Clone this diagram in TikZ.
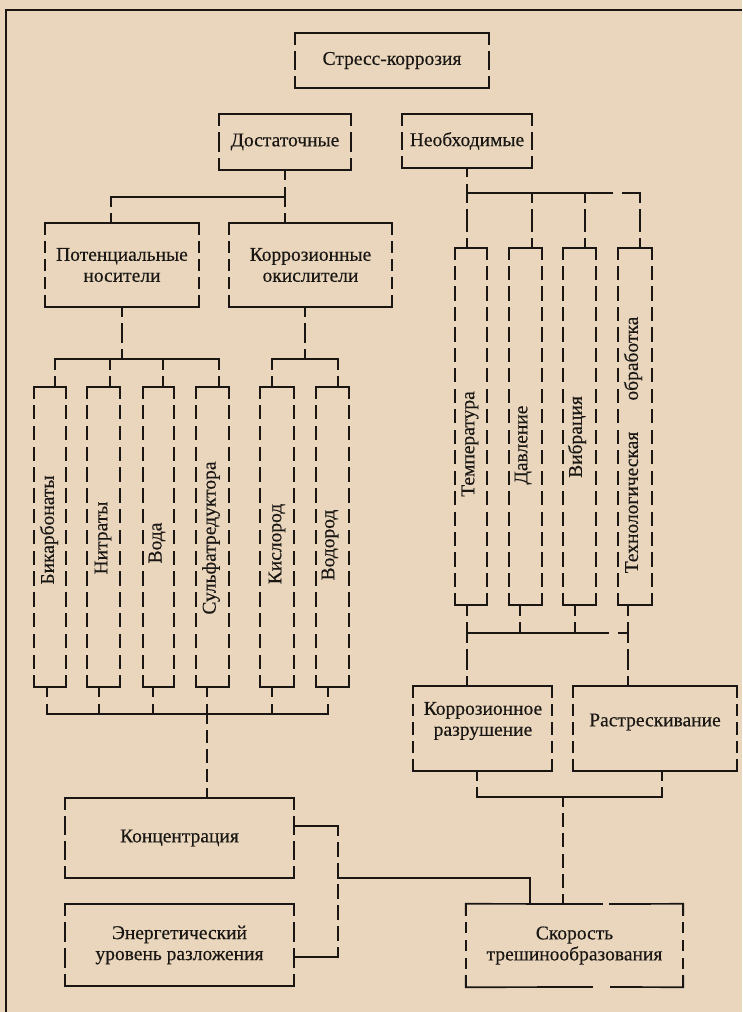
\documentclass[tikz,border=0pt]{standalone}
\usepackage{fontspec}
\setmainfont{Liberation Serif}
\newfontfamily\inkfont{Liberation Serif}[FakeBold=0.35]
\usetikzlibrary{calc}
\definecolor{bg}{RGB}{233,214,188}
\definecolor{ink}{RGB}{25,22,20}
\def\mygap{8}
\def\mydash{13}
\tikzset{
 ln/.style={draw=ink, line width=1.7pt, line cap=rect},
 bx/.style={inner sep=0pt, align=center, font=\inkfont\fontsize{19.5}{21}\selectfont, text=ink},
 txt/.style={inner sep=0pt, align=center, font=\inkfont\fontsize{19.5}{21}\selectfont, text=ink},
}
\newcommand\mkbox[6]{\node[bx,minimum width={(#4-#2)*1pt},minimum height={(#5-#3)*1pt}] (#1) at ({(#2+#4)/2},{(#3+#5)/2}) {#6};}
\newcommand\dlink[3][9]{%
 \path let \p1=(#2), \p2=(#3), \n1={veclen(\x2-\x1,\y2-\y1)} in \pgfextra{\xdef\myL{\n1}};
 \pgfmathsetmacro\myK{round((\myL-2*#1-\mygap)/(\mydash+\mygap))}%
 \ifdim\myK pt<0.5pt
   \pgfmathsetmacro\myT{(\myL-\mygap)/2}%
   \draw[ln] (#2) -- ($(#2)!\myT pt!(#3)$);
   \draw[ln] (#3) -- ($(#3)!\myT pt!(#2)$);
 \else
   \pgfmathsetmacro\myD{(\myL-2*#1-(\myK+1)*\mygap)/\myK}%
   \draw[ln] (#2) -- ($(#2)!#1pt!(#3)$);
   \draw[ln] (#3) -- ($(#3)!#1pt!(#2)$);
   \draw[ln,dash pattern=on \myD pt off \mygap pt] ($(#2)!#1pt+\mygap pt!(#3)$) -- ($(#3)!#1pt+\mygap pt!(#2)$);
 \fi}
\newcommand\frm[1]{%
 \draw[ln] ([yshift=-11pt]#1.north west) -- (#1.north west) -- (#1.north east) -- ([yshift=-11pt]#1.north east);
 \draw[ln] ([yshift=11pt]#1.south west) -- (#1.south west) -- (#1.south east) -- ([yshift=11pt]#1.south east);
 \dlink[11]{#1.north west}{#1.south west}
 \dlink[11]{#1.north east}{#1.south east}}
\begin{document}
\begin{tikzpicture}[x=1pt,y=-1pt]
\fill[bg] (0,0) rectangle (742,1012);
\useasboundingbox (0,0) rectangle (742,1012);
\draw[ink,line width=1.3pt] (6,1012) -- (6,10) -- (742,10);

% boxes
\mkbox{stress}{295}{33}{489}{88}{Стресс-коррозия}
\mkbox{dost}{219}{114}{351}{170}{Достаточные}
\mkbox{neob}{402}{114}{532}{168}{Необходимые}
\mkbox{pot}{45}{223}{199}{307}{Потенциальные\\носители}
\mkbox{korr}{229}{223}{392}{307}{Коррозионные\\окислители}
\mkbox{b1}{34}{387}{66}{687}{}
\mkbox{b2}{87}{387}{120}{687}{}
\mkbox{b3}{143}{387}{174}{687}{}
\mkbox{b4}{196}{387}{229}{687}{}
\mkbox{b5}{260}{387}{294}{687}{}
\mkbox{b6}{316}{387}{349}{687}{}
\mkbox{t1}{455}{248}{487}{605}{}
\mkbox{t2}{509}{248}{542}{605}{}
\mkbox{t3}{563}{248}{596}{605}{}
\mkbox{t4}{618}{248}{652}{605}{}
\mkbox{kr}{413}{686}{552}{771}{}
\mkbox{rs}{573}{686}{737}{771}{}
\mkbox{konc}{65}{798}{294}{878}{Концентрация}
\mkbox{energ}{65}{904}{294}{986}{Энергетический\\уровень разложения}
\mkbox{skor}{466}{904}{683}{987}{Скорость\\трешинообразования}

% labels
\node[txt,rotate=90] (l1) at (49,530) {Бикарбонаты};
\node[txt,rotate=90] (l2) at (103,538) {Нитраты};
\node[txt,rotate=90] (l3) at (157,543) {Вода};
\node[txt,rotate=90] (l4) at (211,538) {Сульфатредуктора};
\node[txt,rotate=90] (l5) at (277,544) {Кислород};
\node[txt,rotate=90] (l6) at (330,545) {Водород};
\node[txt,rotate=90] (l7) at (470,444) {Температура};
\node[txt,rotate=90] (l8) at (523,445) {Давление};
\node[txt,rotate=90] (l9) at (577,437) {Вибрация};
\node[txt,rotate=90] (l10) at (633,445) {Технологическая\hspace{1.6em}обработка};
\node[txt] (krl) at (483,721) {Коррозионное\\разрушение};
\node[txt] (rsl) at (655,722) {Растрескивание};

% frames
\foreach \bn in {stress,dost,neob,pot,korr,b1,b2,b3,b4,b5,b6,t1,t2,t3,t4,kr,rs,konc,energ}{\frm{\bn}}
\draw[ln] ([yshift=-11pt]skor.north west) -- (skor.north west) -- (602,904);
\draw[ln] (610,904) -- (skor.north east) -- ([yshift=-11pt]skor.north east);
\draw[ln] ([yshift=11pt]skor.south west) -- (skor.south west) -- (592,987);
\draw[ln] (611,987) -- (skor.south east) -- ([yshift=11pt]skor.south east);
\dlink[11]{skor.north west}{skor.south west}
\dlink[11]{skor.north east}{skor.south east}

% top connectors
\coordinate (dj) at (285,197);
\coordinate (pl) at (111,197);
\coordinate (potT) at (111,223);
\coordinate (korrT) at (285,223);
\dlink{dost.south}{dj}
\draw[ln] (pl) -- (dj);
\dlink{pl}{potT}
\dlink{dj}{korrT}

% left groups
\coordinate (pj) at (122,359);
\dlink{pot.south}{pj}
\foreach \i/\xx in {1/55,2/110,3/163,4/219,5/272,6/338}{
  \coordinate (la\i) at (\xx,359);
  \coordinate (ta\i) at (\xx,387);
}
\draw[ln] (la1) -- (la4);
\foreach \i in {1,...,6}{\dlink{la\i}{ta\i}}
\coordinate (korrB) at (305,307);
\coordinate (kj) at (305,359);
\dlink{korrB}{kj}
\draw[ln] (la5) -- (la6);

% bottom of small boxes
\foreach \i/\xx in {1/47,2/99,3/153,4/207,5/272,6/328}{
  \coordinate (sb\i) at (\xx,687);
  \coordinate (lb\i) at (\xx,714);
}
\foreach \i in {1,...,6}{\dlink{sb\i}{lb\i}}
\draw[ln] (lb1) -- (lb6);
\coordinate (kt) at (207,798);
\dlink{lb4}{kt}

% right
\coordinate (nj) at (467,193);
\dlink{neob.south}{nj}
\foreach \i/\xx in {1/467,2/532,3/585,4/640}{
  \coordinate (ra\i) at (\xx,193);
  \coordinate (rt\i) at (\xx,248);
}
\foreach \i in {1,...,4}{\dlink{ra\i}{rt\i}}
\coordinate (rg1) at (612,193);
\coordinate (rg2) at (623,193);
\draw[ln] (ra1) -- (rg1);
\draw[ln] (rg2) -- (ra4);
\foreach \i/\xx in {1/467,2/520,3/575,4/628}{
  \coordinate (rs\i) at (\xx,605);
  \coordinate (rb\i) at (\xx,633);
}
\foreach \i in {1,...,4}{\dlink{rs\i}{rb\i}}
\coordinate (rh1) at (608,633);
\coordinate (rh2) at (619,633);
\draw[ln] (rb1) -- (rh1);
\draw[ln] (rh2) -- (rb4);
\coordinate (krT) at (467,686);
\coordinate (rsT) at (628,686);
\dlink{rb1}{krT}
\dlink{rb4}{rsT}

\coordinate (krS) at (477,771);
\coordinate (rsS) at (662,771);
\coordinate (kb) at (477,797);
\coordinate (rsb) at (662,797);
\coordinate (sj) at (563,797);
\coordinate (skT) at (563,904);
\dlink{krS}{kb}
\dlink{rsS}{rsb}
\draw[ln] (kb) -- (rsb);
\dlink{sj}{skT}

% bracket konc/energ -> skor
\coordinate (kc) at (294,826);
\coordinate (kcj) at (338,826);
\coordinate (enj) at (338,957);
\coordinate (en) at (294,957);
\coordinate (mj) at (338,878);
\coordinate (sc) at (530,878);
\coordinate (skT2) at (530,904);
\draw[ln] (kc) -- (kcj);
\dlink{kcj}{enj}
\draw[ln] (enj) -- (en);
\draw[ln] (mj) -- (sc) -- (skT2);
\end{tikzpicture}
\end{document}
